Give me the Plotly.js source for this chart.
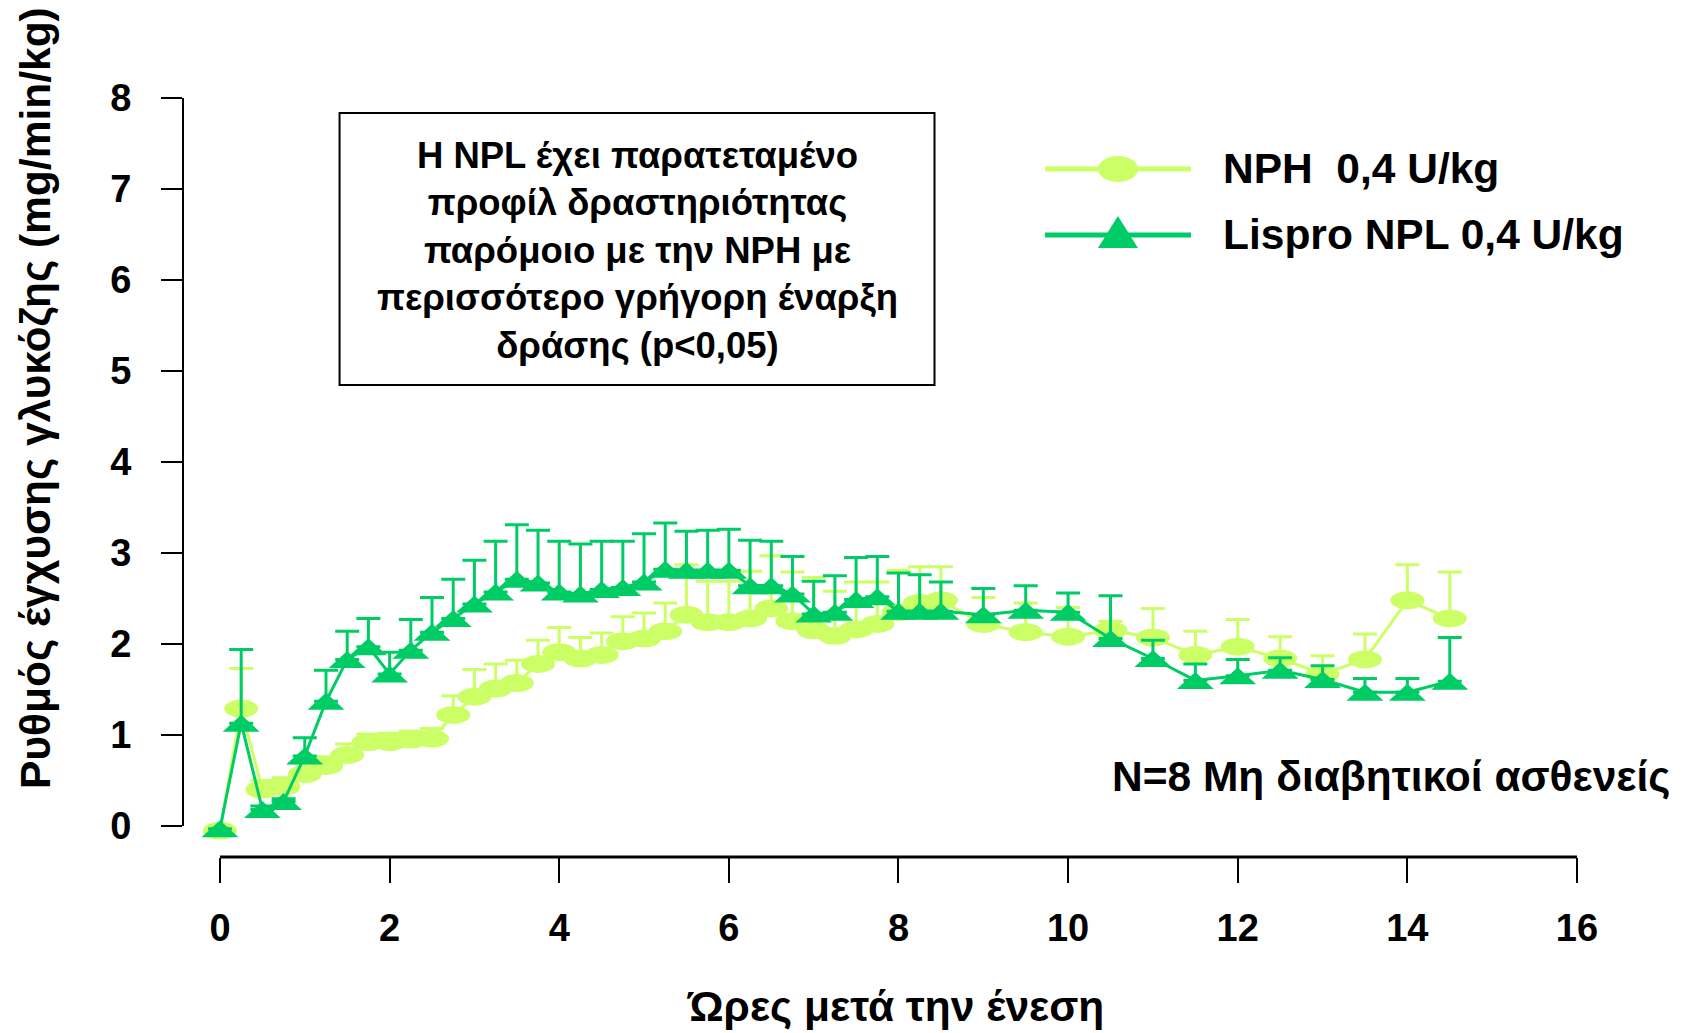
<!DOCTYPE html>
<html>
<head>
<meta charset="utf-8">
<script src="https://cdn.plot.ly/plotly-3.0.1.min.js"></script>
<style>
html, body { margin: 0; padding: 0; background: #ffffff; }
#chart { width: 1690px; height: 1033px; }
</style>
</head>
<body>
<div id="chart"></div>
<script>
// ---- data ----
const hours = [0, 0.25, 0.5, 0.75, 1, 1.25, 1.5, 1.75, 2, 2.25, 2.5, 2.75, 3, 3.25, 3.5, 3.75,
  4, 4.25, 4.5, 4.75, 5, 5.25, 5.5, 5.75, 6, 6.25, 6.5, 6.75, 7, 7.25, 7.5, 7.75, 8, 8.25, 8.5,
  9, 9.5, 10, 10.5, 11, 11.5, 12, 12.5, 13, 13.5, 14, 14.5];

const nphValues = [-0.05, 1.29, 0.40, 0.43, 0.57, 0.66, 0.78, 0.92, 0.92, 0.95, 0.96, 1.22,
  1.42, 1.51, 1.57, 1.78, 1.91, 1.84, 1.88, 2.03, 2.06, 2.14, 2.32, 2.24, 2.24, 2.28, 2.39,
  2.25, 2.15, 2.09, 2.16, 2.22, 2.35, 2.45, 2.48, 2.22, 2.13, 2.08, 2.15, 2.07, 1.88, 1.97,
  1.84, 1.67, 1.83, 2.48, 2.28];
const nphErrors = [0, 0.44, 0.10, 0.10, 0.12, 0.10, 0.12, 0.09, 0.10, 0.09, 0.11, 0.21,
  0.30, 0.27, 0.25, 0.26, 0.27, 0.23, 0.24, 0.27, 0.28, 0.31, 0.55, 0.45, 0.45, 0.52, 0.58,
  0.54, 0.58, 0.49, 0.52, 0.46, 0.46, 0.40, 0.37, 0.29, 0.32, 0.32, 0.10, 0.32, 0.26, 0.30,
  0.24, 0.20, 0.28, 0.39, 0.51];

const nplValues = [-0.03, 1.13, 0.18, 0.27, 0.77, 1.37, 1.83, 1.97, 1.67, 1.93, 2.13, 2.28,
  2.44, 2.57, 2.71, 2.67, 2.57, 2.55, 2.60, 2.62, 2.68, 2.82, 2.81, 2.81, 2.81, 2.64, 2.64,
  2.55, 2.33, 2.35, 2.49, 2.52, 2.36, 2.36, 2.36, 2.32, 2.37, 2.35, 2.06, 1.84, 1.60, 1.65,
  1.71, 1.61, 1.47, 1.47, 1.59];
const nplErrors = [0, 0.81, 0.04, 0.03, 0.20, 0.34, 0.31, 0.31, 0.24, 0.34, 0.38, 0.43,
  0.48, 0.56, 0.60, 0.58, 0.56, 0.55, 0.53, 0.51, 0.53, 0.51, 0.43, 0.44, 0.45, 0.50, 0.49,
  0.41, 0.36, 0.40, 0.46, 0.44, 0.42, 0.40, 0.32, 0.29, 0.27, 0.21, 0.47, 0.20, 0.18, 0.18,
  0.14, 0.15, 0.15, 0.15, 0.48];

const seriesNames = ['NPH  0,4 U/kg', 'Lispro NPL 0,4 U/kg'];
const xTickValues = [0, 2, 4, 6, 8, 10, 12, 14, 16];
const yTickValues = [0, 1, 2, 3, 4, 5, 6, 7, 8];
const xTitle = 'Ώρες μετά την ένεση';
const yTitle = 'Ρυθμός έγχυσης γλυκόζης (mg/min/kg)';
const boxLines = ['Η NPL έχει παρατεταμένο', 'προφίλ δραστηριότητας', 'παρόμοιο με την NPH με',
  'περισσότερο γρήγορη έναρξη', 'δράσης (p<0,05)'];
const noteText = 'N=8 Μη διαβητικοί ασθενείς';

// ---- styles ----
const NPH_COLOR = '#CCFF66';
const NPL_COLOR = '#00CC66';
const FONT = 'Liberation Sans, Arial, Helvetica, sans-serif';

const traces = [
  {
    x: hours, y: nphValues, name: seriesNames[0], type: 'scatter', mode: 'lines',
    line: { color: NPH_COLOR, width: 3 },
    error_y: { type: 'data', symmetric: false, array: nphErrors, arrayminus: nphErrors.map(() => 0),
      color: NPH_COLOR, thickness: 3, width: 12 },
    showlegend: false, hoverinfo: 'skip'
  },
  {
    x: hours, y: nplValues, name: seriesNames[1], type: 'scatter', mode: 'lines',
    line: { color: NPL_COLOR, width: 3 },
    error_y: { type: 'data', symmetric: false, array: nplErrors, arrayminus: nplErrors.map(() => 0),
      color: NPL_COLOR, thickness: 3, width: 12 },
    showlegend: false, hoverinfo: 'skip'
  }
];

const shapes = [];
// axis lines (detached, as in the reference)
shapes.push({ type: 'line', xref: 'x', yref: 'paper', x0: xTickValues[0], x1: xTickValues[xTickValues.length - 1],
  y0: 0, y1: 0, line: { color: '#000', width: 3 } });
shapes.push({ type: 'line', xref: 'paper', yref: 'y', x0: 0, x1: 0,
  y0: yTickValues[0], y1: yTickValues[yTickValues.length - 1], line: { color: '#000', width: 2 } });

// markers: NPH ellipses and Lispro NPL flat triangles, anchored at the data through the axes
hours.forEach((h, i) => {
  shapes.push({ type: 'circle', xref: 'x', yref: 'y', xsizemode: 'pixel', ysizemode: 'pixel',
    xanchor: h, yanchor: nphValues[i], x0: -17, x1: 17, y0: -9, y1: 9,
    fillcolor: NPH_COLOR, line: { width: 0 }, layer: 'below' });
});
hours.forEach((h, i) => {
  shapes.push({ type: 'path', xref: 'x', yref: 'y', xsizemode: 'pixel', ysizemode: 'pixel',
    xanchor: h, yanchor: nplValues[i], path: 'M-18.5,-8.5L18.5,-8.5L0,8.5Z',
    fillcolor: NPL_COLOR, line: { width: 0 }, layer: 'above' });
});

// text box
shapes.push({ type: 'rect', xref: 'paper', yref: 'paper', x0: 0.1123, x1: 0.5391, y0: 0.6219, y1: 0.9802,
  line: { color: '#000', width: 2 }, fillcolor: 'rgba(0,0,0,0)' });

// legend samples
const legRows = [0.9065, 0.8195];
shapes.push({ type: 'line', xref: 'paper', yref: 'paper', x0: 0.6184, x1: 0.7231, y0: legRows[0], y1: legRows[0],
  line: { color: NPH_COLOR, width: 5 } });
shapes.push({ type: 'circle', xref: 'paper', yref: 'paper', xsizemode: 'pixel', ysizemode: 'pixel',
  xanchor: 0.6707, yanchor: legRows[0], x0: -20, x1: 20, y0: -13, y1: 13,
  fillcolor: NPH_COLOR, line: { width: 0 } });
shapes.push({ type: 'line', xref: 'paper', yref: 'paper', x0: 0.6184, x1: 0.7231, y0: legRows[1], y1: legRows[1],
  line: { color: NPL_COLOR, width: 5 } });
shapes.push({ type: 'path', xref: 'paper', yref: 'paper', xsizemode: 'pixel', ysizemode: 'pixel',
  xanchor: 0.6707, yanchor: legRows[1], path: 'M-20,-13L20,-13L0,19Z',
  fillcolor: NPL_COLOR, line: { width: 0 } });

const boldFont = (size) => ({ family: FONT, size: size, color: '#000', weight: 700 });

const annotations = [
  { xref: 'paper', yref: 'paper', x: -0.1062, y: 0.6047, text: yTitle, textangle: -90, showarrow: false,
    xanchor: 'center', yanchor: 'middle', font: boldFont(42.5) },
  { xref: 'paper', yref: 'paper', x: 0.5108, y: -0.1976, text: xTitle, showarrow: false,
    xanchor: 'center', yanchor: 'middle', font: boldFont(42.5) },
  { xref: 'paper', yref: 'paper', x: 0.3257, y: 0.7997, text: boxLines.join('<br>'), showarrow: false,
    xanchor: 'center', yanchor: 'middle', align: 'center', font: boldFont(36.5) },
  { xref: 'paper', yref: 'paper', x: 0.7446, y: legRows[0], text: seriesNames[0], showarrow: false,
    xanchor: 'left', yanchor: 'middle', font: boldFont(42.5) },
  { xref: 'paper', yref: 'paper', x: 0.7446, y: legRows[1], text: seriesNames[1], showarrow: false,
    xanchor: 'left', yanchor: 'middle', font: boldFont(42.5) },
  { xref: 'paper', yref: 'paper', x: 1.0682, y: 0.1067, text: noteText, showarrow: false,
    xanchor: 'right', yanchor: 'middle', font: boldFont(42.5) }
];

const layout = {
  width: 1690, height: 1033,
  margin: { l: 183, r: 113, t: 98, b: 176 },
  paper_bgcolor: '#ffffff', plot_bgcolor: '#ffffff',
  showlegend: false,
  xaxis: {
    range: [-0.436, 16], tickvals: xTickValues, ticktext: xTickValues.map(String),
    ticks: 'outside', ticklen: 25, tickwidth: 2, tickcolor: '#000',
    showline: false, showgrid: false, zeroline: false,
    tickfont: boldFont(38), ticklabelstandoff: 12
  },
  yaxis: {
    range: [-0.341, 8], tickvals: yTickValues, ticktext: yTickValues.map(String),
    ticks: 'outside', ticklen: 21, tickwidth: 2, tickcolor: '#000',
    showline: false, showgrid: false, zeroline: false,
    tickfont: boldFont(38), ticklabelstandoff: 22
  },
  shapes: shapes,
  annotations: annotations
};

Plotly.newPlot('chart', traces, layout, { displayModeBar: false, staticPlot: true });
</script>
</body>
</html>
